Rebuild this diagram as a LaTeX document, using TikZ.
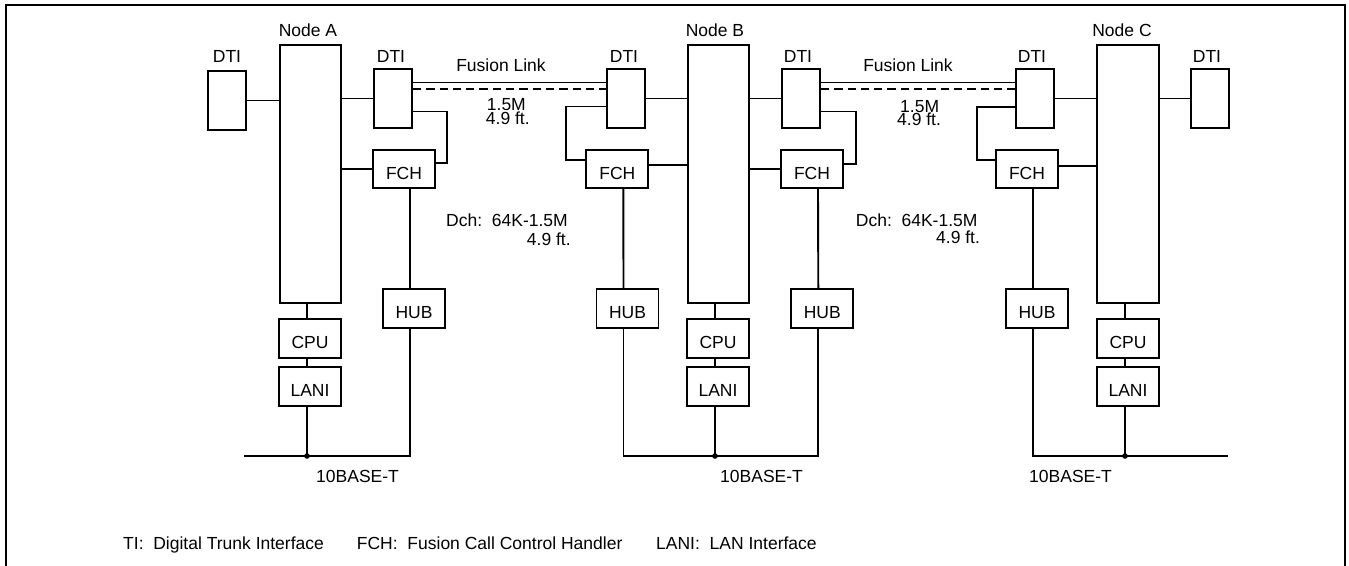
\documentclass[tikz,border=0pt]{standalone}
\usepackage{fontspec}
\setmainfont{Liberation Sans}
\usetikzlibrary{calc}
\newcommand\fs{\fontsize{17.5}{20}\selectfont}
\tikzset{
  box/.style={draw, line width=1.9pt, inner sep=0pt, minimum width=62pt, minimum height=38.5pt, font=\fs, text height=20.5pt, text depth=0pt},
  dti/.style={box, minimum width=38pt, minimum height=59pt},
  nodebox/.style={box, minimum width=61.5pt, minimum height=258pt},
  lbl/.style={inner sep=0pt, font=\fs, anchor=base},
  lblw/.style={lbl, anchor=base west},
  wire/.style={line width=1.9pt},
  flink/.style={line width=1.9pt, dash pattern=on 8.3pt off 5pt},
  frame/.style={line width=2.3pt},
}
\begin{document}
\begin{tikzpicture}[x=1pt,y=-1pt]
\useasboundingbox (0,0) rectangle (1349,565);
\draw[frame] (6,570) -- (6,5) -- (1345,5) -- (1345,570);

% main node boxes
\node[nodebox] (nA) at (310.5,174) {};
\node[nodebox] (nB) at (718.4,174) {};
\node[nodebox] (nC) at (1128,174) {};
% DTIs
\node[dti] (dA1) at (227,100.5) {};
\node[dti] (dA2) at (393,98.5) {};
\node[dti] (dB1) at (626,98.5) {};
\node[dti] (dB2) at (801,98.5) {};
\node[dti] (dC1) at (1035,98.5) {};
\node[dti] (dC2) at (1210,98.5) {};
% FCH
\node[box] (fA) at (404,169) {FCH};
\node[box] (fB1) at (617.3,169) {FCH};
\node[box] (fB2) at (812,169) {FCH};
\node[box] (fC) at (1027,169) {FCH};
% HUB
\node[box] (hA) at (414,308.3) {HUB};
\node[box] (hB1) at (627.5,308.3) {HUB};
\node[box] (hB2) at (822.3,308.3) {HUB};
\node[box] (hC) at (1037,308.3) {HUB};
% CPU, LANI
\node[box] (cA) at (310,338.5) {CPU};
\node[box] (lA) at (310,386.3) {LANI};
\node[box] (cB) at (718,338.5) {CPU};
\node[box] (lB) at (718,386.3) {LANI};
\node[box] (cC) at (1128,338.5) {CPU};
\node[box] (lC) at (1128,386.3) {LANI};

% bus end coordinates
\coordinate (busA) at (244,456);
\coordinate (busC) at (1228,456);

% labels
\node[lbl] (labA) at (308,36) {Node A};
\node[lbl] (labB) at (715,36) {Node B};
\node[lbl] (labC) at (1122,36) {Node C};
\node[lbl] (tA1) at (227,62.3) {DTI};
\node[lbl] (tA2) at (391,62.3) {DTI};
\node[lbl] (tB1) at (624,62.3) {DTI};
\node[lbl] (tB2) at (798,62.3) {DTI};
\node[lbl] (tC1) at (1032,62.3) {DTI};
\node[lbl] (tC2) at (1207,62.3) {DTI};
\node[lbl] (fl1) at (501,71.7) {Fusion Link};
\node[lbl] (fl2) at (908,71.7) {Fusion Link};
\node[lblw] (r1) at (486.7,110.5) {1.5M};
\node[lblw] (d1) at (485.7,124.5) {4.9 ft.};
\node[lblw] (r2) at (900,112.5) {1.5M};
\node[lblw] (d2) at (897,125) {4.9 ft.};
\node[lblw] (dch1) at (446,226.7) {Dch:\ \ 64K-1.5M};
\node[lblw] (dd1) at (526.7,245) {4.9 ft.};
\node[lblw] (dch2) at (855.7,226.7) {Dch:\ \ 64K-1.5M};
\node[lblw] (dd2) at (936,243.3) {4.9 ft.};
\node[lblw] (bt1) at (316,482.3) {10BASE-T};
\node[lblw] (bt2) at (720,482.3) {10BASE-T};
\node[lblw] (bt3) at (1029,482.3) {10BASE-T};
\node[lblw] (leg1) at (123,549) {TI:\ \ Digital Trunk Interface};
\node[lblw] (leg2) at (356.7,549) {FCH:\ \ Fusion Call Control Handler};
\node[lblw] (leg3) at (656,549) {LANI:\ \ LAN Interface};

% Node A connections
\draw[wire] (dA1.east) -- (dA1.east -| nA.west);
\draw[wire] (dA2.west -| nA.east) -- (dA2.west);
\draw[wire] (fA.west -| nA.east) -- (fA.west);
\draw[wire] ([yshift=-13pt]dA2.east) -- ++(34,0) |- ([yshift=6pt]fA.east);
\draw[wire] ([xshift=6pt]fA.south) -- ([xshift=-4pt]hA.north);

% Fusion link A-B
\draw[wire] ([yshift=16pt]dA2.east) -- ([yshift=16pt]dB1.west);
\draw[flink] ([yshift=9.5pt]dA2.east) -- ([yshift=9.5pt]dB1.west);

% Node B connections
\draw[wire] (dB1.east) -- (dB1.east -| nB.west);
\draw[wire] ([yshift=-8pt]dB1.west) -- ++(-39.7,0) |- ([yshift=9pt]fB1.west);
\draw[wire] ([yshift=4pt]fB1.east) -- ([yshift=4pt]fB1.east -| nB.west);
\draw[wire] ([xshift=6pt]fB1.south) -- ([xshift=-4pt]hB1.north);
\draw[wire] (dB2.west -| nB.east) -- (dB2.west);
\draw[wire] (fB2.west -| nB.east) -- (fB2.west);
\draw[wire] ([yshift=-13pt]dB2.east) -- ++(35,0) |- ([yshift=5pt]fB2.east);
\draw[wire] ([xshift=6pt]fB2.south) -- ([xshift=-4pt]hB2.north);

% Fusion link B-C
\draw[wire] ([yshift=16pt]dB2.east) -- ([yshift=16pt]dC1.west);
\draw[flink] ([yshift=9.5pt]dB2.east) -- ([yshift=9.5pt]dC1.west);

% Node C connections
\draw[wire] (dC1.east) -- (dC1.east -| nC.west);
\draw[wire] ([yshift=-8.8pt]dC1.west) -- ++(-38.3,0) |- ([yshift=9pt]fC.west);
\draw[wire] ([yshift=3.3pt]fC.east) -- ([yshift=3.3pt]fC.east -| nC.west);
\draw[wire] ([xshift=6pt]fC.south) -- ([xshift=-4pt]hC.north);
\draw[wire] (dC2.west -| nC.east) -- (dC2.west);

% CPU / LANI stacks
\foreach \n/\c/\l in {nA/cA/lA, nB/cB/lB, nC/cC/lC}{
  \draw[wire] ([xshift=-3pt]\c.north |- \n.south) -- ([xshift=-3pt]\c.north);
  \draw[wire] ([xshift=-3pt]\c.south) -- ([xshift=-3pt]\l.north);
  \draw[wire] ([xshift=-3pt]\l.south) -- ([xshift=-3pt]\l.south |- busA);
  \fill ([xshift=-3pt]\l.south |- busA) circle (2.8);
}

% 10BASE-T buses
\draw[wire] (busA) -| ([xshift=-4pt]hA.south);
\draw[wire] ([xshift=-4pt]hB1.south) -- ([xshift=-4pt]hB1.south |- busA) -| ([xshift=-4pt]hB2.south);
\draw[wire] ([xshift=-4pt]hC.south) |- (busC);
\end{tikzpicture}
\end{document}
